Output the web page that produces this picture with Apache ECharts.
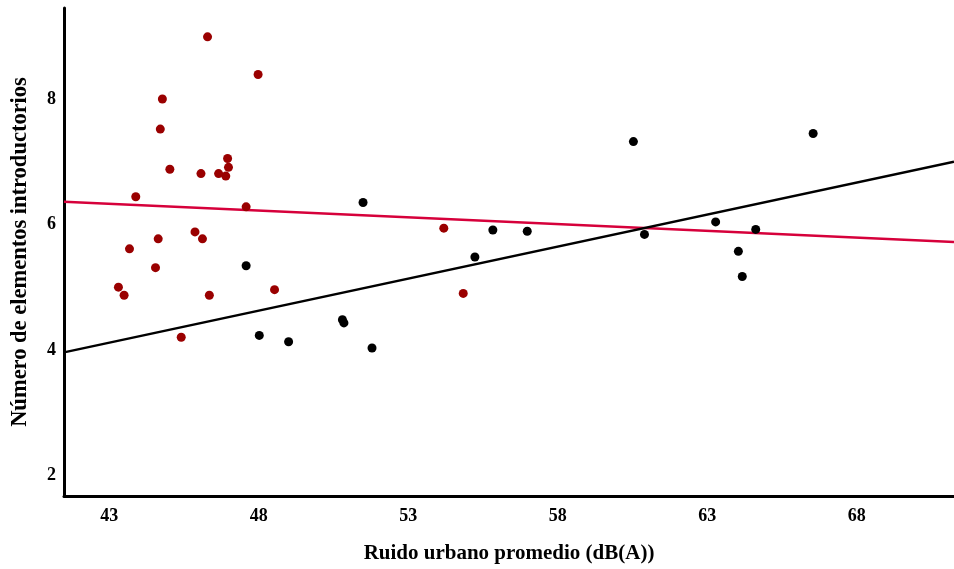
<!DOCTYPE html>
<html>
<head>
<meta charset="utf-8">
<script src="https://cdn.jsdelivr.net/npm/echarts@6/dist/echarts.min.js"></script>
<style>
  html, body { margin: 0; padding: 0; background: #fff; }
  #chart { width: 954px; height: 569px; }
</style>
</head>
<body>
<div id="chart"></div>
<script>
// grupo rojo
var redX = [46.29, 47.98, 44.78, 44.71, 45.03, 46.07, 46.66, 46.96, 46.99, 46.90, 43.89, 47.58,
            45.87, 46.12, 44.64, 43.68, 44.55, 43.31, 43.50, 46.35, 48.53, 45.41, 54.19, 54.84];
var redY = [8.99, 8.39, 8.00, 7.52, 6.88, 6.81, 6.81, 7.05, 6.91, 6.77, 6.44, 6.28,
            5.88, 5.77, 5.77, 5.61, 5.31, 5.00, 4.87, 4.87, 4.96, 4.20, 5.94, 4.90];

// grupo negro
var blackX = [47.58, 48.02, 49.00, 51.49, 55.83, 56.98, 55.23, 50.80, 50.85, 51.79,
              60.53, 60.90, 66.54, 63.28, 64.62, 64.04, 64.17];
var blackY = [5.34, 4.23, 4.13, 6.35, 5.91, 5.89, 5.48, 4.48, 4.43, 4.03,
              7.32, 5.84, 7.45, 6.04, 5.92, 5.57, 5.17];

// rectas de ajuste (extremos)
var fitX = [41.49, 71.25];
var fitBlack = [3.96, 7.00];
var fitRed = [6.36, 5.72];

var xTicks = [43, 48, 53, 58, 63, 68];
var yTicks = [2, 4, 6, 8];

function pairs(xs, ys) {
  var out = [];
  for (var i = 0; i < xs.length; i++) out.push([xs[i], ys[i]]);
  return out;
}

var font = '"Liberation Serif", "Times New Roman", serif';

var option = {
  backgroundColor: '#fff',
  animation: false,
  grid: { left: 64, right: 0, top: 8, bottom: 73, outerBoundsMode: 'none' },
  xAxis: {
    type: 'value',
    min: 41.49,
    max: 71.25,
    name: 'Ruido urbano promedio (dB(A))',
    nameLocation: 'middle',
    nameGap: 47,
    nameTextStyle: { fontFamily: font, fontWeight: 'bold', fontSize: 21, color: '#000' },
    axisLine: { lineStyle: { color: '#000', width: 3 } },
    axisTick: { show: false },
    splitLine: { show: false },
    axisLabel: {
      customValues: xTicks,
      margin: 11,
      fontFamily: font, fontWeight: 'bold', fontSize: 18, color: '#000'
    }
  },
  yAxis: {
    type: 'value',
    min: 1.67,
    max: 9.45,
    name: 'Número de elementos introductorios',
    nameLocation: 'middle',
    nameGap: 32,
    nameTextStyle: { fontFamily: font, fontWeight: 'bold', fontSize: 22.5, color: '#000' },
    axisLine: { show: true, lineStyle: { color: '#000', width: 3 } },
    axisTick: { show: false },
    splitLine: { show: false },
    axisLabel: {
      customValues: yTicks,
      margin: 8,
      fontFamily: font, fontWeight: 'bold', fontSize: 18, color: '#000'
    }
  },
  series: [
    {
      type: 'line',
      data: pairs(fitX, fitRed),
      showSymbol: false,
      lineStyle: { color: '#d6003b', width: 2.5 },
      z: 2
    },
    {
      type: 'line',
      data: pairs(fitX, fitBlack),
      showSymbol: false,
      lineStyle: { color: '#000', width: 2.5 },
      z: 2
    },
    {
      type: 'scatter',
      data: pairs(redX, redY),
      symbolSize: 9,
      itemStyle: { color: '#9a0000', opacity: 1 },
      z: 3
    },
    {
      type: 'scatter',
      data: pairs(blackX, blackY),
      symbolSize: 9,
      itemStyle: { color: '#000', opacity: 1 },
      z: 3
    }
  ]
};

var myChart = echarts.init(document.getElementById('chart'));
myChart.setOption(option);
</script>
</body>
</html>
